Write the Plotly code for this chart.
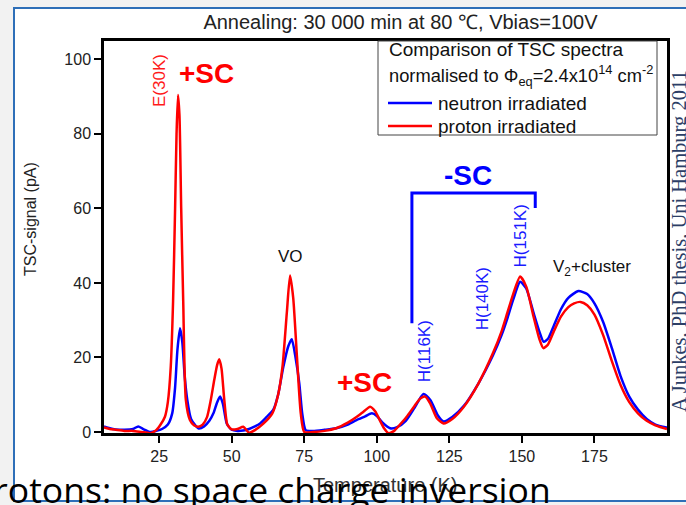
import plotly.graph_objects as go

# ---------------- data ----------------
temp_neutron = [6, 8, 10, 13, 16, 17.8, 19.5, 22, 24, 26, 28, 29.5, 30.5, 31.3, 32.2, 33, 33.8, 34.7, 36,
                38.5, 40.5, 42.3, 43.7, 45, 46, 47, 48.3, 50, 52, 54, 56, 58, 59.8, 62, 64.3, 66, 67.8,
                69.5, 70.7, 72, 73.3, 74.3, 75.5, 78, 82, 86, 90, 93, 96, 98.3, 100, 102, 104.6, 107,
                110, 113, 116.1, 118.5, 121, 123, 126, 130, 135, 140, 143, 145, 147, 149.4, 151.5, 154,
                156, 157.5, 159, 161, 163.5, 166, 169.5, 172.5, 175, 178, 181, 184, 187, 190, 193, 196, 200]
tsc_neutron = [1.5, 1.0, 0.7, 0.6, 0.8, 1.5, 0.8, 0.0, 0.3, 0.8, 2.0, 5.0, 12.0, 22.0, 27.8, 24.0, 15.0, 8.6, 3.5,
               1.0, 1.5, 3.0, 5.0, 8.0, 9.5, 7.5, 2.3, 0.6, 0.3, 0.4, 0.8, 1.5, 2.3, 4.0, 5.9, 10.0, 17.5,
               23.0, 24.9, 20.0, 13.0, 5.0, 0.5, 0.3, 0.6, 1.0, 2.0, 3.2, 4.2, 5.0, 4.3, 2.5, 1.0, 1.3,
               3.0, 6.5, 10.2, 8.5, 4.5, 2.8, 4.0, 7.0, 13.0, 20.5, 26.0, 30.5, 35.5, 40.3, 38.5, 32.0,
               27.0, 24.2, 25.0, 28.5, 33.0, 36.0, 37.8, 37.0, 34.5, 29.5, 22.5, 15.0, 9.5, 6.0, 3.5, 2.0, 1.2]

temp_proton = [6, 8, 10, 13, 16, 19, 22, 24, 25.5, 27, 28, 29, 29.8, 30.5, 31, 31.5, 32, 32.6, 33.3, 34.2,
               35.6, 37, 38.5, 40, 41.5, 42.8, 44, 45, 45.7, 46.5, 47.4, 48.5, 50, 52, 54, 56, 58, 61, 64,
               66, 67.5, 69, 70.1, 71.2, 72.5, 73.8, 75, 78, 82, 86, 90, 93, 95.5, 97.7, 99.5, 101, 102.5,
               104, 106, 108, 110.3, 113, 115, 116.7, 118.5, 120.7, 123, 126, 130, 135, 140, 143, 145, 147,
               149.4, 151.5, 154, 156, 157.4, 159, 161, 163.5, 166, 168, 170.2, 172.5, 175, 178, 181, 184,
               187, 190, 193, 196, 200]
tsc_proton = [1.2, 0.8, 0.6, 0.3, 0.3, 0.0, -0.3, 0.5, 2.0, 4.1, 8.0, 17.5, 35.0, 60.0, 80.0, 90.4, 85.0, 60.0, 35.0, 8.6,
              3.2, 1.8, 1.4, 2.0, 4.0, 8.6, 14.0, 18.0, 19.5, 17.0, 9.0, 2.0, 0.7, 0.8, 1.4, -0.2, 0.5, 2.3, 5.0,
              10.0, 17.5, 32.0, 42.0, 36.0, 20.0, 5.0, 0.0, 0.0, 0.3, 1.0, 2.5, 4.0, 5.5, 6.8, 5.5, 3.2, 1.0,
              -0.3, 0.3, 2.0, 4.1, 7.0, 9.0, 9.5, 7.5, 3.7, 2.3, 3.5, 6.8, 13.0, 21.1, 27.0, 32.0, 37.0,
              41.7, 39.0, 31.0, 25.0, 22.5, 23.5, 27.0, 31.0, 33.5, 34.5, 34.9, 34.0, 31.5, 26.0, 19.0, 12.6,
              8.0, 5.0, 3.0, 1.8, 0.8]

x_ticks = [25, 50, 75, 100, 125, 150, 175]
y_ticks = [0, 20, 40, 60, 80, 100]

series_names = ["neutron irradiated", "proton irradiated"]
series_colors = ["#0000ff", "#ff0000"]
legend_heading = ["Comparison of TSC spectra",
                  "normalised to \u03a6<sub>eq</sub>=2.4x10<sup>14</sup> cm<sup>-2</sup>"]

# peak labels: (text, temperature, signal, colour, angle, size, bold)
peak_labels = [
    ("E(30K)", 24.9, 94.4, "#ff1a1a", -90, 17, False),
    ("+SC", 41.3, 96.3, "#ff0000", 0, 28, True),
    ("VO", 70.1, 47.0, "#111111", 0, 17, False),
    ("+SC", 95.6, 13.4, "#ff0000", 0, 28, True),
    ("H(116K)", 116.3, 21.7, "#1a1aff", -90, 17, False),
    ("H(140K)", 136.5, 35.8, "#1a1aff", -90, 17, False),
    ("H(151K)", 149.4, 52.5, "#1a1aff", -90, 17, False),
    ("-SC", 131.5, 68.7, "#0000ff", 0, 28, True),
    ("V<sub>2</sub>+cluster", 174.2, 44.0, "#111111", 0, 17, False),
]
# bracket grouping the -SC hole traps
bracket_x = [112.1, 112.1, 154.6, 154.6]
bracket_y = [29.2, 64.1, 64.1, 60.1]

# ---------------- figure ----------------
fig = go.Figure()
fig.add_trace(go.Scatter(x=temp_neutron, y=tsc_neutron, mode="lines", name=series_names[0],
                         showlegend=False,
                         line=dict(color=series_colors[0], width=2.5, shape="spline", smoothing=0.6)))
fig.add_trace(go.Scatter(x=temp_proton, y=tsc_proton, mode="lines", name=series_names[1],
                         showlegend=False,
                         line=dict(color=series_colors[1], width=2.5, shape="spline", smoothing=0.6)))

# pixel -> paper helpers (plot area: x 104..667, y 41..433)
def px(v):
    return (v - 104) / 563.0


def py(v):
    return (433 - v) / 392.0


path = "M " + " L ".join(f"{a},{b}" for a, b in zip(bracket_x, bracket_y))
shapes = [
    dict(type="rect", xref="paper", yref="paper", x0=px(14), x1=px(720), y0=py(501), y1=py(8),
         fillcolor="white", line=dict(color="#2e6fb8", width=2), layer="below"),
    dict(type="path", xref="x", yref="y", path=path, line=dict(color="#0000ff", width=3)),
    # legend box
    dict(type="rect", xref="paper", yref="paper", x0=px(378), x1=px(657), y0=py(135), y1=py(41),
         fillcolor="white", line=dict(color="#444444", width=1)),
]

annotations = []
annotations.append(dict(text="Temperature (K)", xref="paper", yref="paper", x=px(385), y=py(485),
                        xanchor="center", yanchor="middle",
                        showarrow=False, font=dict(size=20, color="#333333")))
annotations.append(dict(text="TSC-signal (pA)", xref="paper", yref="paper", x=px(30), y=py(219),
                        xanchor="center", yanchor="middle",
                        textangle=-90, showarrow=False, font=dict(size=16, color="#222222")))
for text, tx, ty, col, ang, sz, bold in peak_labels:
    annotations.append(dict(text=f"<b>{text}</b>" if bold else text, x=tx, y=ty, xref="x", yref="y",
                            xanchor="center", yanchor="middle",
                            showarrow=False, textangle=ang,
                            font=dict(size=sz, color=col)))

# legend contents
for line_text, yy, fs in zip(legend_heading, [49, 75], [19, 18.3]):
    annotations.append(dict(text=line_text, xref="paper", yref="paper", x=px(387), y=py(yy),
                            xanchor="left", yanchor="middle", showarrow=False,
                            font=dict(size=fs, color="#111111")))
for name, col, yy in zip(series_names, series_colors, [103, 126]):
    shapes.append(dict(type="line", xref="paper", yref="paper", x0=px(388), x1=px(432),
                       y0=py(yy), y1=py(yy), line=dict(color=col, width=2.5)))
    annotations.append(dict(text=name, xref="paper", yref="paper", x=px(436), y=py(yy),
                            xanchor="left", yanchor="middle", showarrow=False,
                            font=dict(size=19, color="#111111")))

annotations.append(dict(text="A Junkes, PhD thesis, Uni Hamburg 2011", xref="paper", yref="paper",
                        x=px(679), y=py(241), xanchor="center", yanchor="middle",
                        textangle=-90, showarrow=False,
                        font=dict(family="Liberation Serif, serif", size=20.5, color="#2c3e66")))
annotations.append(dict(text="Protons: no space charge inversion", xref="paper", yref="paper",
                        x=px(553), xanchor="right", y=py(489), yanchor="middle", showarrow=False,
                        font=dict(family="Open Sans, sans-serif", size=35.5, color="#000000")))

axis_common = dict(ticks="outside", ticklen=7, tickwidth=2, tickcolor="black", showline=True,
                   linewidth=2.5, linecolor="black", mirror=True, showgrid=False, zeroline=False,
                   tickfont=dict(size=16, color="#222222"))

fig.update_layout(
    width=686, height=505,
    margin=dict(l=104, r=19, t=41, b=72),
    paper_bgcolor="#f2f2f2", plot_bgcolor="white",
    font=dict(family="Liberation Sans, Arial, sans-serif", color="#111111"),
    title=dict(text="Annealing: 30 000 min at 80 \u2103, Vbias=100V", xref="paper", x=px(400.5),
               xanchor="center", yref="container", y=1 - 22 / 505, yanchor="middle",
               font=dict(size=20, color="#222222")),
    xaxis=dict(range=[6, 200], tickvals=x_ticks, **axis_common),
    yaxis=dict(range=[-0.27, 104.9], tickvals=y_ticks, **axis_common),
    showlegend=False,
    shapes=shapes,
    annotations=annotations,
)

fig.write_html("out.html")
